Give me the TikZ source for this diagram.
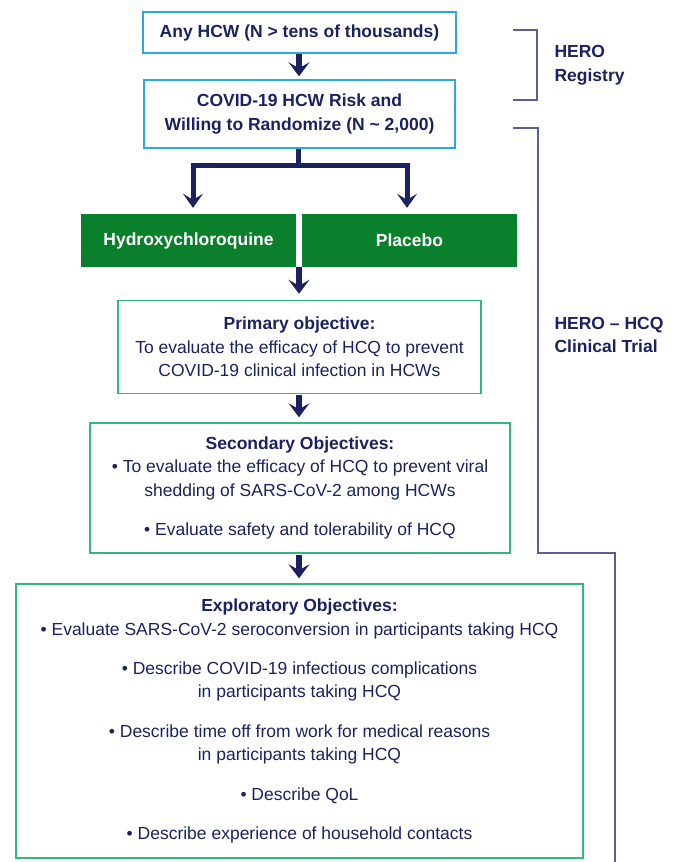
\documentclass[tikz,border=0pt]{standalone}
\usepackage{fontspec}
\setmainfont{Liberation Sans}
\usetikzlibrary{arrows.meta,calc}
\definecolor{navy}{HTML}{1C2260}
\definecolor{skyb}{HTML}{2AA8E0}
\definecolor{gfill}{HTML}{0A7F2C}
\definecolor{gline}{HTML}{2FB97A}
\definecolor{brk}{HTML}{5B5F97}
\tikzset{
  txt/.style={font=\fontsize{17.5}{23.5}\selectfont, text=navy},
  bluebox/.style={draw=skyb, line width=1.5pt, fill=white, inner sep=0pt, align=center, txt, font=\fontsize{17.5}{23.5}\selectfont\bfseries},
  greenfill/.style={fill=gfill, inner sep=0pt, text=white, font=\fontsize{17.5}{23.5}\selectfont\bfseries},
  greenbox/.style={draw=gline, line width=1.5pt, inner sep=0pt, align=center, txt},
  flowarrow/.style={draw=navy, line width=5.5pt, -{Stealth[width=21pt,length=14pt,inset=6pt]}},
  flowline/.style={draw=navy, line width=5pt},
  brancharrow/.style={draw=navy, line width=5pt, -{Stealth[width=20pt,length=14pt,inset=6pt]}},
  bracket/.style={draw=brk, line width=1.5pt},
  side/.style={anchor=west, align=left, text=navy, font=\fontsize{17.5}{23.5}\selectfont\bfseries}
}
\begin{document}
\begin{tikzpicture}[x=1pt,y=-1pt]
\useasboundingbox (0,0) rectangle (678,862);
\node[bluebox, minimum width=313pt, minimum height=41pt] (box1) at (299.5,32.5) {Any HCW (N > tens of thousands)};
\node[bluebox, minimum width=311pt, minimum height=68pt] (box2) at (299.5,114) {COVID-19 HCW Risk and\\Willing to Randomize (N \textasciitilde{} 2,000)};
\node[greenfill, minimum width=215pt, minimum height=53pt] (hcq) at (188.5,240.5) {Hydroxychloroquine};
\node[greenfill, minimum width=215pt, minimum height=53pt] (plc) at (409.5,240.5) {Placebo};
\node[greenbox, minimum width=363pt, minimum height=93pt] (prim) at (299.5,347) {\textbf{Primary objective:}\\To evaluate the efficacy of HCQ to prevent\\COVID-19 clinical infection in HCWs};
\node[greenbox, minimum width=420pt, minimum height=130pt] (sec) at (300,488) {\textbf{Secondary Objectives:}\\\textbullet{} To evaluate the efficacy of HCQ to prevent viral\\shedding of SARS-CoV-2 among HCWs\\[16pt]\textbullet{} Evaluate safety and tolerability of HCQ};
\node[greenbox, minimum width=567pt, minimum height=274pt] (expl) at (299.5,721) {\textbf{Exploratory Objectives:}\\\textbullet{} Evaluate SARS-CoV-2 seroconversion in participants taking HCQ\\[15.5pt]\textbullet{} Describe COVID-19 infectious complications\\in participants taking HCQ\\[16pt]\textbullet{} Describe time off from work for medical reasons\\in participants taking HCQ\\[16pt]\textbullet{} Describe QoL\\[16pt]\textbullet{} Describe experience of household contacts};
% arrows
\coordinate (mid) at ($(hcq.south east)!0.5!(plc.south west)$);
\draw[flowarrow, shorten <=0.5pt, shorten >=3pt] (box1.south -| mid) -- (box2.north -| mid);
\coordinate (split) at (298,165);
\coordinate (L) at (193,165);
\coordinate (R) at (407,165);
\draw[flowline] (box2.south -| split) -- (split);
\draw[flowline, line cap=rect] (L) -- (R);
\draw[brancharrow, shorten >=6pt] (L) -- (L |- hcq.north);
\draw[brancharrow, shorten >=6pt] (R) -- (R |- plc.north);
\draw[flowarrow, shorten >=6pt] (mid) -- (mid |- prim.north);
\draw[flowarrow, shorten <=1pt, shorten >=5pt] (prim.south -| mid) -- (sec.north -| mid);
\draw[flowarrow, shorten <=1pt, shorten >=5pt] (sec.south -| mid) -- (expl.north -| mid);
% brackets
\coordinate (r1) at (513,30);
\coordinate (r2) at (537,30);
\coordinate (r3) at (537,100);
\coordinate (r4) at (513,100);
\draw[bracket] (r1) -- (r2) -- (r3) -- (r4);
\coordinate (c1) at (513,128);
\coordinate (c2) at (538,128);
\coordinate (c3) at (538,553);
\coordinate (c4) at (615,553);
\coordinate (c5) at (615,862);
\draw[bracket] (c1) -- (c2) -- (c3) -- (c4) -- (c5);
\node[side] (reg) at (551,65) {HERO\\Registry};
\node[side] (trial) at (551,335) {HERO -- HCQ\\Clinical Trial};
\end{tikzpicture}
\end{document}
